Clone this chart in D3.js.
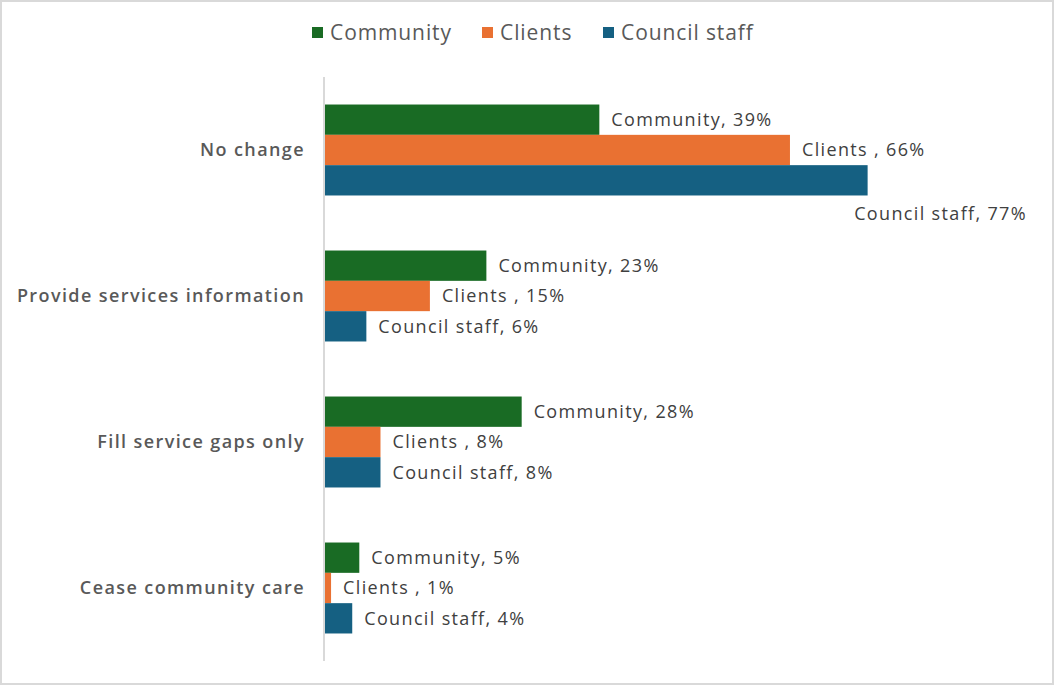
<html>
<head>
<style>
  body { margin: 0; background: #fff; }
  svg { font-family: "Open Sans", "Lato", sans-serif; }
  .cat { fill: #595959; font-weight: 600; font-size: 18px; letter-spacing: 1.4px; }
  .lbl { fill: #404040; font-size: 18px; letter-spacing: 1.35px; }
  .legend text { fill: #595959; font-size: 21px; letter-spacing: 0.9px; }
</style>
</head>
<body>
<div id="chart"></div>
<script src="https://d3js.org/d3.v7.min.js"></script>
<script>
// data
const categories = ['No change', 'Provide services information', 'Fill service gaps only', 'Cease community care'];
const series = ['Community', 'Clients', 'Council staff'];
const labelNames = ['Community', 'Clients ', 'Council staff'];
const community = [39, 23, 28, 5];
const clients = [66, 15, 8, 1];
const councilStaff = [77, 6, 8, 4];
const colors = ['#196B24', '#E97132', '#156082'];

const values = [community, clients, councilStaff];
const width = 1056, height = 686;

const svg = d3.select('#chart').append('svg')
  .attr('width', width)
  .attr('height', height);

// outer frame
svg.append('rect')
  .attr('x', 1).attr('y', 1)
  .attr('width', 1052).attr('height', 683)
  .attr('fill', '#fff')
  .attr('stroke', '#d9d9d9')
  .attr('stroke-width', 2);

const x = d3.scaleLinear().domain([0, 100]).range([324, 1030]);
const y = d3.scaleBand().domain(categories).range([77, 661]).paddingInner(0.377).paddingOuter(0.377 / 2);
const y1 = d3.scaleBand().domain(series).range([0, y.bandwidth()]);

const rows = [];
categories.forEach((c, i) => {
  series.forEach((s, j) => {
    rows.push({cat: c, series: s, name: labelNames[j], value: values[j][i], color: colors[j]});
  });
});

svg.append('g').selectAll('rect')
  .data(rows)
  .join('rect')
    .attr('x', x(0))
    .attr('y', d => y(d.cat) + y1(d.series))
    .attr('width', d => x(d.value) - x(0))
    .attr('height', y1.bandwidth())
    .attr('fill', d => d.color);

// vertical axis line
svg.append('line')
  .attr('x1', x(0)).attr('x2', x(0))
  .attr('y1', 77).attr('y2', 661)
  .attr('stroke', '#d9d9d9')
  .attr('stroke-width', 2);

// category labels
svg.append('g').selectAll('text')
  .data(categories)
  .join('text')
    .attr('class', 'cat')
    .attr('x', x(0) - 19)
    .attr('y', d => y(d) + y.bandwidth() / 2)
    .attr('dy', '0.35em')
    .attr('text-anchor', 'end')
    .text(d => d);

// data labels
const rightLimit = 1027;
svg.append('g').selectAll('text')
  .data(rows)
  .join('text')
    .attr('class', 'lbl')
    .attr('dy', '0.35em')
    .text(d => d.name + ', ' + d.value + '%')
    .each(function(d) {
      const t = d3.select(this);
      const w = this.getComputedTextLength();
      const cy = y(d.cat) + y1(d.series) + y1.bandwidth() / 2;
      let lx = x(d.value) + 12;
      if (lx + w > rightLimit) {
        t.attr('x', rightLimit).attr('y', cy + y1.bandwidth() + 3).attr('text-anchor', 'end');
      } else {
        t.attr('x', lx).attr('y', cy);
      }
    });

// legend
const legend = svg.append('g').attr('class', 'legend');
const legendX = [312, 482, 603];
series.forEach((s, j) => {
  const g = legend.append('g').attr('transform', `translate(${legendX[j]},33)`);
  g.append('rect').attr('x', 0).attr('y', -6).attr('width', 11).attr('height', 11).attr('fill', colors[j]);
  g.append('text').attr('x', 18).attr('dy', '0.35em').text(s);
});
</script>
</body>
</html>
